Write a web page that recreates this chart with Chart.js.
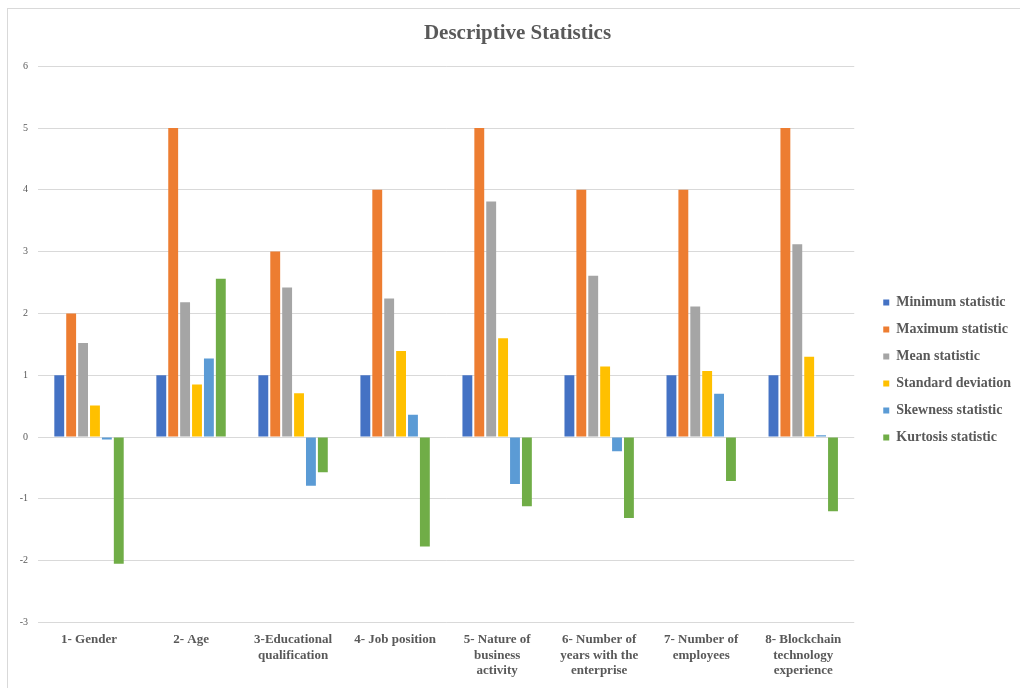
<!DOCTYPE html>
<html>
<head>
<meta charset="utf-8">
<script src="https://cdn.jsdelivr.net/npm/chart.js@4"></script>
<style>
  html, body { margin: 0; padding: 0; background: #fff; overflow: hidden; }
  #frame { position: absolute; left: 7px; top: 8px; width: 1040px; height: 700px; border: 1px solid #d9d9d9; }
  #chart { position: absolute; left: 0; top: 0; }
</style>
</head>
<body>
<div id="frame"></div>
<canvas id="chart" width="1020" height="688"></canvas>
<script>
// categories (x axis)
const categories = [
    ["1- Gender"],
    ["2- Age"],
    ["3-Educational", "qualification"],
    ["4- Job position"],
    ["5- Nature of", "business", "activity"],
    ["6- Number of", "years with the", "enterprise"],
    ["7- Number of", "employees"],
    ["8- Blockchain", "technology", "experience"]
];

// series values
const minimumStat = [1, 1, 1, 1, 1, 1, 1, 1];
const maximumStat = [2, 5, 3, 4, 5, 4, 4, 5];
const meanStat = [1.52, 2.18, 2.42, 2.24, 3.81, 2.61, 2.11, 3.12];
const stdDeviation = [0.51, 0.85, 0.71, 1.39, 1.6, 1.14, 1.07, 1.3];
const skewnessStat = [-0.04, 1.27, -0.79, 0.36, -0.76, -0.23, 0.7, 0.03];
const kurtosisStat = [-2.05, 2.56, -0.57, -1.77, -1.12, -1.31, -0.71, -1.2];

const seriesNames = ["Minimum statistic", "Maximum statistic", "Mean statistic",
    "Standard deviation", "Skewness statistic", "Kurtosis statistic"];

// y axis ticks
const yMin = -3;
const yMax = 6;

function getColor(name) {
    if (name === "Minimum statistic") return '#4472C4';
    if (name === "Maximum statistic") return '#ED7D31';
    if (name === "Mean statistic") return '#A5A5A5';
    if (name === "Standard deviation") return '#FFC000';
    if (name === "Skewness statistic") return '#5B9BD5';
    if (name === "Kurtosis statistic") return '#70AD47';
}

const allSeries = [minimumStat, maximumStat, meanStat, stdDeviation, skewnessStat, kurtosisStat];
const serif = "'Liberation Serif', 'Times New Roman', serif";

// nudges the title and legend to where they sit in the original
const nudge = {
    id: 'nudge',
    afterLayout(chart) {
        const t = chart.titleBlock;
        t.left += 15; t.right += 15;
        const l = chart.legend;
        l.left += 16; l.right += 16;
        l.top += 26; l.bottom += 26;
    }
};

new Chart(document.querySelector('#chart').getContext('2d'), {
    type: 'bar',
    data: {
        labels: categories,
        datasets: allSeries.map((values, i) => ({
            label: seriesNames[i],
            data: values,
            backgroundColor: getColor(seriesNames[i]),
            borderWidth: 0,
            categoryPercentage: 0.7,
            barPercentage: 0.83
        }))
    },
    plugins: [nudge],
    options: {
        responsive: false,
        animation: false,
        devicePixelRatio: 1,
        layout: { padding: { left: 0, right: 15, top: 0, bottom: 0 } },
        plugins: {
            title: {
                display: true,
                text: 'Descriptive Statistics',
                color: '#595959',
                font: { family: serif, size: 21, weight: 'bold' },
                padding: { top: 21, bottom: 20 }
            },
            legend: {
                position: 'right',
                labels: {
                    boxWidth: 6,
                    boxHeight: 6,
                    padding: 13,
                    color: '#595959',
                    font: { family: serif, size: 14, weight: 'bold' }
                }
            },
            tooltip: { enabled: false }
        },
        scales: {
            x: {
                grid: { display: false, drawTicks: false },
                border: { display: false },
                ticks: {
                    color: '#595959',
                    padding: 9,
                    maxRotation: 0,
                    autoSkip: false,
                    font: { family: serif, size: 13, weight: 'bold', lineHeight: 1.22 }
                }
            },
            y: {
                min: yMin,
                max: yMax,
                afterFit: scale => { scale.width = 38; },
                grid: { color: '#d9d9d9', drawTicks: false },
                border: { display: false },
                ticks: {
                    stepSize: 1,
                    padding: 10,
                    color: '#595959',
                    font: { family: serif, size: 10 }
                }
            }
        }
    }
});
</script>
</body>
</html>
